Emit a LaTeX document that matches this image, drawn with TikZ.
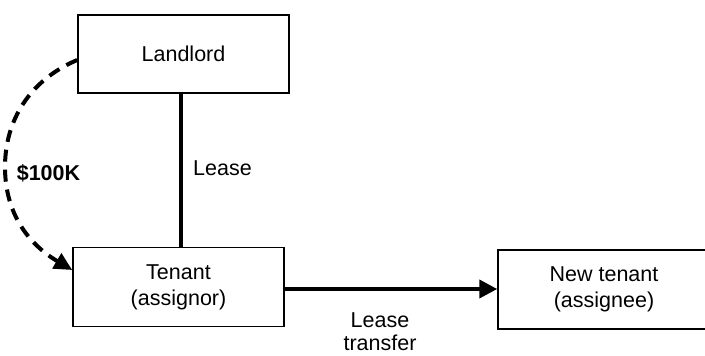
\documentclass[tikz,border=0pt]{standalone}
\usepackage{fontspec}
\setmainfont{Liberation Sans}
\usetikzlibrary{arrows.meta,calc}
\begin{document}
\begin{tikzpicture}[x=1pt,y=-1pt,
  box/.style={draw,line width=1.5pt,minimum width=211pt,minimum height=78pt,inner sep=0pt,align=center,font=\fontsize{21.5}{26}\selectfont},
  lbl/.style={font=\fontsize{21.5}{23}\selectfont,inner sep=0pt,align=center},
  thick line/.style={line width=4pt},
  money/.style={thick line,dash pattern=on 12pt off 8pt}]
\useasboundingbox (0,0) rectangle (705,356);
\node[box] (landlord) at (183.5,54) {Landlord};
\node[box,minimum height=79pt] (tenant) at (178.5,287) {Tenant\\(assignor)};
\node[box,minimum width=212pt,minimum height=79pt] (newtenant) at (604,289.5) {New tenant\\(assignee)};
\coordinate (vx) at (181,0);
\draw[thick line] (landlord.south -| vx) -- (tenant.north -| vx);
\node[lbl,anchor=west] (lease) at (193,168) {Lease};
\draw[thick line,-{Triangle[length=18pt,width=18pt]}] ($(tenant.east)+(0,2)$) -- ($(tenant.east -| newtenant.west)+(0,2)$);
\node[lbl] (transfer) at (380,332) {Lease\\transfer};
\coordinate (cs) at ($(landlord.west)+(0,6)$);
\coordinate (cm) at (5,167);
\coordinate (ce) at ($(tenant.west)+(0,-17)$);
\draw[money,-{Triangle[length=18pt,width=17pt]}] (cs) .. controls (30,80) and (5,120) .. (cm) .. controls (5,215) and (30,245) .. (ce);
\node[lbl,font=\fontsize{21.5}{24}\selectfont\bfseries] (money) at (48.5,173) {\$100K};
\end{tikzpicture}
\end{document}
